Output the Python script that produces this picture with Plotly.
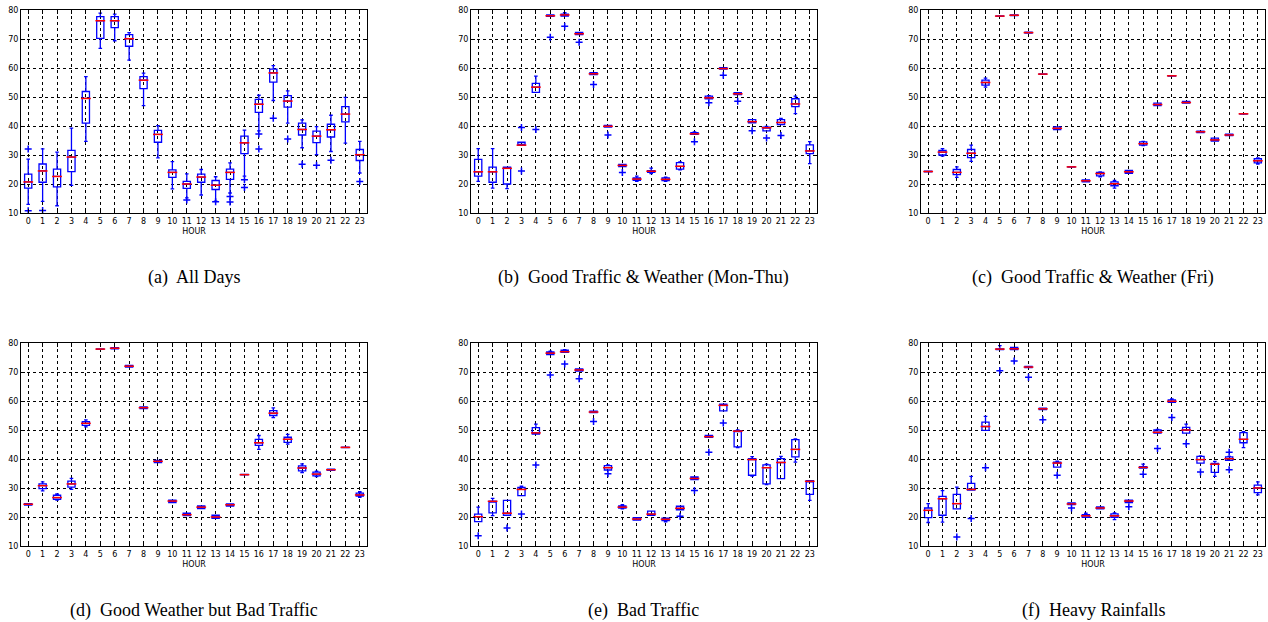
import plotly.graph_objects as go
from plotly.subplots import make_subplots

hours = list(range(24))

# ---- (a) All Days ----
a_q1 = [18.6,20.6,19.0,24.3,41.0,70.2,73.9,67.5,52.9,34.4,22.3,18.5,20.6,18.1,21.6,30.5,44.7,55.1,46.5,36.9,34.3,36.2,41.4,28.1]
a_med = [20.7,24.5,22.6,29.3,49.5,76.3,76.3,70.1,55.8,37.1,24.0,20.0,22.4,19.6,24.0,34.2,47.5,58.3,48.6,38.8,36.5,38.7,44.1,30.1]
a_q3 = [23.4,26.9,25.1,31.6,51.9,77.7,77.7,71.5,57.0,38.5,24.9,20.9,23.4,21.2,25.1,36.5,49.2,59.6,50.5,41.0,38.2,40.6,46.7,31.9]
a_lo = [13.0,14.0,12.5,19.5,34.7,66.8,69.4,62.7,47.0,29.0,18.3,15.2,16.2,14.1,16.9,22.7,38.3,48.8,41.0,32.5,30.1,31.2,34.1,23.8]
a_hi = [28.6,32.1,31.0,39.3,57.0,78.9,78.6,72.2,58.2,40.1,27.7,23.5,25.0,22.5,27.3,38.6,50.6,60.8,52.1,42.1,39.8,43.7,49.9,34.7]
a_out_x = [0,0,1,11,13,14,14,15,15,16,16,17,18,19,20,21,23]
a_out_y = [32.1,10.8,10.9,14.5,13.9,15.7,13.8,21.5,18.8,37.2,32.1,42.7,35.5,26.8,26.5,28.2,20.9]

# ---- (b) Good Traffic & Weather (Mon-Thu) ----
b_q1 = [22.7,20.6,20.0,33.3,51.6,77.8,77.9,71.5,57.7,39.6,26.0,21.3,24.0,21.2,25.1,37.1,49.4,59.6,50.8,41.1,38.3,40.5,46.7,30.5]
b_med = [24.2,24.2,25.4,33.4,53.4,78.0,78.3,71.8,58.0,39.9,26.4,21.7,24.4,21.6,26.1,37.3,49.7,59.8,51.1,41.5,39.4,41.2,47.6,31.4]
b_q3 = [28.5,25.8,25.8,34.4,54.7,78.3,78.6,72.3,58.4,40.2,26.8,22.1,24.6,22.1,27.4,37.7,50.3,60.1,51.5,42.2,39.6,42.2,49.4,33.5]
b_lo = [20.9,18.6,18.4,33.3,51.6,77.8,77.9,71.5,57.7,39.6,26.0,20.9,23.6,20.9,24.9,37.1,49.4,59.6,50.8,41.1,38.3,40.5,44.3,27.0]
b_hi = [32.2,32.2,25.8,34.4,57.2,78.3,79.1,72.3,58.4,40.2,26.8,22.7,25.5,22.4,27.6,38.0,50.5,60.1,51.5,42.2,39.9,42.6,50.3,34.6]
b_out_x = [3,3,4,5,6,7,8,9,10,15,16,17,18,19,20,21]
b_out_y = [39.5,24.5,38.8,70.6,74.4,68.9,54.3,36.9,24.0,34.6,48.0,57.5,48.5,38.4,35.9,36.7]

# ---- (c) Good Traffic & Weather (Fri) ----
c_q1 = [24.2,30.0,23.2,29.1,54.1,77.8,78.1,72.0,57.8,38.8,25.8,20.7,22.8,19.4,23.7,33.4,47.0,57.2,47.9,37.7,34.8,36.7,44.1,27.3]
c_med = [24.3,31.0,24.0,30.6,55.0,77.9,78.2,72.2,57.9,39.2,25.9,21.1,23.6,20.1,24.2,33.9,47.4,57.3,48.1,38.0,35.2,36.9,44.2,28.0]
c_q3 = [24.4,31.6,25.0,31.9,55.8,78.0,78.3,72.4,58.0,39.7,26.0,21.4,24.0,20.7,24.7,34.5,47.9,57.4,48.5,38.2,35.8,37.2,44.3,28.7]
c_lo = [24.2,29.6,22.3,27.8,53.4,77.8,78.1,72.0,57.8,38.8,25.8,20.7,22.5,18.6,23.7,33.2,47.0,57.2,47.9,37.7,34.8,36.7,44.1,26.9]
c_hi = [24.4,32.2,25.9,33.4,56.5,78.0,78.3,72.4,58.0,39.7,26.0,21.4,24.2,21.2,24.7,34.7,47.9,57.4,48.5,38.2,35.8,37.2,44.3,29.0]
c_out_x = []
c_out_y = []

# ---- (d) Good Weather but Bad Traffic ----
d_q1 = [24.1,29.8,26.1,30.3,51.6,77.8,78.0,71.7,57.4,38.8,25.0,20.5,22.9,19.5,23.8,34.5,44.7,55.0,45.7,35.9,34.2,36.1,43.9,27.2]
d_med = [24.4,30.8,26.7,31.4,52.3,77.9,78.2,72.0,57.7,39.2,25.5,20.8,23.4,20.0,24.2,34.6,45.6,55.8,46.8,36.9,34.8,36.3,44.0,27.6]
d_q3 = [24.6,31.4,27.5,32.4,52.9,78.0,78.4,72.3,58.0,39.5,25.8,21.3,23.8,20.6,24.5,34.7,46.8,56.7,47.5,37.6,35.5,36.5,44.1,28.2]
d_lo = [24.1,29.0,25.8,29.5,51.1,77.8,78.0,71.7,57.4,38.8,25.0,20.5,22.9,19.5,23.8,34.5,43.3,54.3,45.1,35.3,33.9,36.1,43.9,26.8]
d_hi = [24.6,32.1,28.0,33.3,53.5,78.0,78.4,72.3,58.0,39.5,25.8,21.3,23.8,20.6,24.5,34.7,48.1,57.6,48.5,38.3,35.8,36.5,44.1,28.7]
d_out_x = []
d_out_y = []

# ---- (e) Bad Traffic ----
e_q1 = [18.4,21.4,20.6,27.4,48.6,76.0,76.8,70.3,56.0,36.2,23.1,18.9,20.6,18.8,22.5,32.9,47.5,56.6,44.2,34.4,31.4,33.2,40.7,27.8]
e_med = [20.1,25.4,21.3,29.5,49.0,76.5,77.0,70.7,56.2,37.0,23.4,19.3,21.0,19.2,23.0,33.3,47.7,58.5,49.6,39.8,37.0,38.8,43.3,32.3]
e_q3 = [21.0,25.5,25.7,30.2,50.8,76.9,77.5,71.1,56.5,37.7,23.8,19.8,22.0,19.6,23.7,33.8,48.1,58.9,49.8,40.1,38.0,40.1,46.7,32.5]
e_lo = [18.4,20.5,20.6,27.4,48.6,76.0,76.8,70.3,56.0,36.2,22.8,18.9,20.6,18.3,22.5,32.9,47.5,56.6,43.9,34.1,31.2,33.2,38.9,25.7]
e_hi = [23.4,26.4,25.7,30.6,52.0,77.2,77.7,71.1,56.5,38.0,24.3,19.8,22.0,19.6,23.7,33.8,48.1,58.9,50.0,40.8,38.2,40.9,46.9,32.5]
e_out_x = [0,2,3,4,5,6,7,8,9,14,15,16,17]
e_out_y = [13.5,16.2,21.0,37.9,69.0,72.8,67.7,52.9,34.9,20.3,29.1,42.3,52.4]

# ---- (f) Heavy Rainfalls ----
f_q1 = [19.8,20.6,22.8,29.3,49.9,77.7,77.7,71.5,57.0,37.2,24.3,19.9,22.8,19.9,25.0,36.9,48.9,59.5,48.9,38.6,35.4,39.5,45.6,28.4]
f_med = [22.3,26.3,24.6,29.5,51.2,77.9,78.0,71.7,57.3,38.6,24.5,20.4,23.1,20.4,25.5,37.1,49.2,59.9,50.0,39.8,38.2,40.1,46.8,30.0]
f_q3 = [23.1,27.1,27.8,31.6,52.7,78.0,78.5,71.9,57.5,38.9,24.9,20.8,23.5,21.1,25.8,37.4,50.0,60.4,50.9,40.9,38.5,40.7,49.1,31.0]
f_lo = [18.1,18.2,22.8,29.3,49.9,77.7,77.7,71.5,57.0,37.2,24.3,19.9,22.8,19.1,25.0,36.9,48.9,59.5,48.9,38.6,34.0,39.5,43.9,27.6]
f_hi = [24.6,29.1,30.3,34.0,54.7,79.1,78.5,71.9,57.5,39.3,24.9,21.3,23.5,21.4,25.8,38.2,50.2,60.7,52.0,41.1,39.2,40.9,49.4,32.1]
f_out_x = [2,3,4,5,6,7,8,9,10,14,15,16,17,18,19,21,21]
f_out_y = [13.1,19.5,37.0,70.4,73.8,68.2,53.5,34.4,23.1,23.5,34.7,43.6,54.3,45.3,35.5,42.3,36.3]

captions = ["(a)  All Days", "(b)  Good Traffic & Weather (Mon-Thu)", "(c)  Good Traffic & Weather (Fri)",
            "(d)  Good Weather but Bad Traffic", "(e)  Bad Traffic", "(f)  Heavy Rainfalls"]

panels = [
    (a_q1, a_med, a_q3, a_lo, a_hi, a_out_x, a_out_y),
    (b_q1, b_med, b_q3, b_lo, b_hi, b_out_x, b_out_y),
    (c_q1, c_med, c_q3, c_lo, c_hi, c_out_x, c_out_y),
    (d_q1, d_med, d_q3, d_lo, d_hi, d_out_x, d_out_y),
    (e_q1, e_med, e_q3, e_lo, e_hi, e_out_x, e_out_y),
    (f_q1, f_med, f_q3, f_lo, f_hi, f_out_x, f_out_y),
]

W, H = 1268, 622
# pixel layout of plot areas
xpix = [(21, 367), (471, 817), (921, 1265)]
ypix = [(10, 213), (343, 546)]

fig = make_subplots(rows=2, cols=3)

for i, (q1, med, q3, lo, hi, ox, oy) in enumerate(panels):
    r, c = i // 3 + 1, i % 3 + 1
    fig.add_trace(go.Box(x=hours, q1=q1, median=med, q3=q3, lowerfence=lo, upperfence=hi,
                         boxpoints=False, width=0.5, whiskerwidth=0.5,
                         line=dict(color="blue", width=1.3), fillcolor="rgba(0,0,0,0)",
                         showlegend=False), row=r, col=c)
    fig.add_trace(go.Scatter(x=hours, y=med, mode="markers",
                             marker=dict(symbol="line-ew", size=7, color="red",
                                         line=dict(color="red", width=1.5)),
                             showlegend=False), row=r, col=c)
    if ox:
        fig.add_trace(go.Scatter(x=ox, y=oy, mode="markers",
                                 marker=dict(symbol="cross-thin", size=5, color="blue",
                                             line=dict(color="blue", width=1.5)),
                                 showlegend=False), row=r, col=c)

axfont = dict(family="DejaVu Sans", size=8, color="black")
for i in range(6):
    r, c = i // 3, i % 3
    x0, x1 = xpix[c]
    y0, y1 = ypix[r]
    xd = [x0 / W, x1 / W]
    yd = [(H - y1) / H, (H - y0) / H]
    n = "" if i == 0 else str(i + 1)
    fig.layout["xaxis" + n].update(
        domain=xd, range=[-0.5, 23.5], tickmode="array", tickvals=hours,
        ticktext=[str(h) for h in hours], showgrid=True, gridcolor="black",
        griddash="dot", gridwidth=1, showline=True, linecolor="black", linewidth=1,
        mirror="ticks", ticks="inside", ticklen=4, tickcolor="black", tickfont=axfont,
        zeroline=False, automargin=False,
        title=dict(text="HOUR", font=axfont, standoff=3))
    fig.layout["yaxis" + n].update(
        domain=yd, range=[10, 80], tickmode="array", tickvals=[10, 20, 30, 40, 50, 60, 70, 80],
        showgrid=True, gridcolor="black", griddash="dot", gridwidth=1,
        showline=True, linecolor="black", linewidth=1, mirror="ticks", ticks="inside",
        ticklen=4, tickcolor="black", tickfont=axfont, zeroline=False, automargin=False)
    cap_y = 277 if r == 0 else 610
    fig.add_annotation(text=captions[i], xref="paper", yref="paper",
                       x=(x0 + x1) / 2 / W, y=(H - cap_y) / H, xanchor="center", yanchor="middle",
                       showarrow=False, font=dict(family="Liberation Serif", size=18, color="black"))

fig.update_layout(width=W, height=H, margin=dict(l=0, r=0, t=0, b=0),
                  paper_bgcolor="white", plot_bgcolor="white", showlegend=False)

fig.write_html("out.html", config={"displayModeBar": False},
               post_script="document.body.style.margin='0';document.body.style.overflow='hidden';")
